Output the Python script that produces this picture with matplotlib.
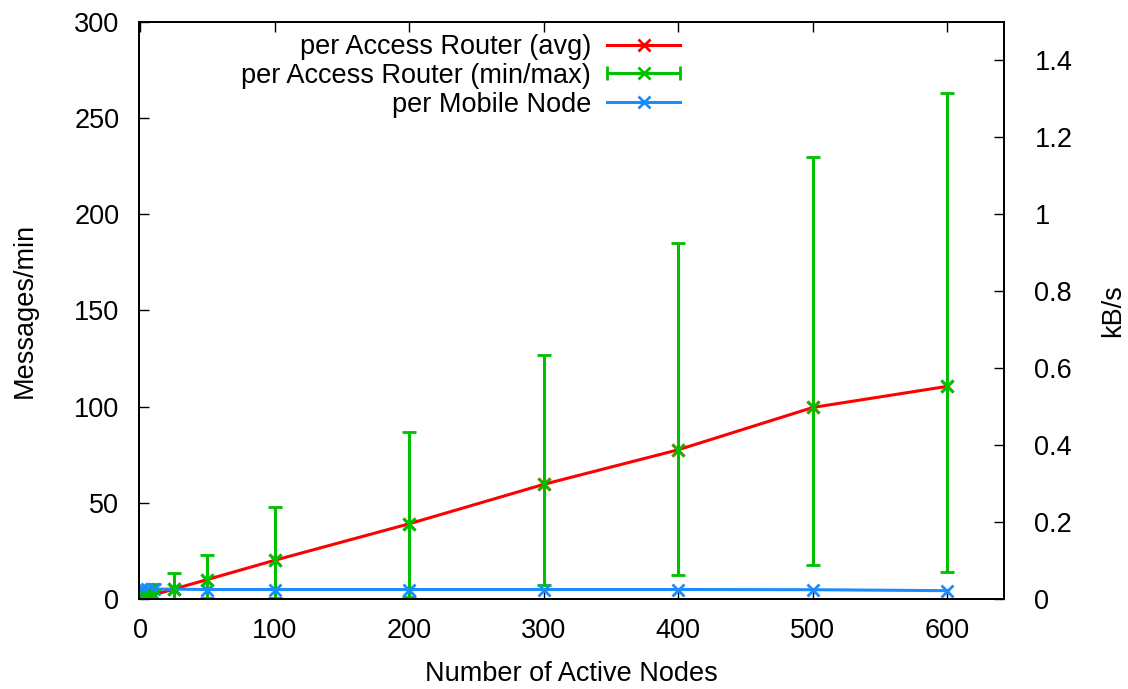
import numpy as np
import matplotlib
matplotlib.use("Agg")
import matplotlib.pyplot as plt
from matplotlib.ticker import FormatStrFormatter
from matplotlib.legend_handler import HandlerErrorbar

plt.rcParams['font.family'] = ['Liberation Sans', 'DejaVu Sans']
plt.rcParams['font.size'] = 19.5

# data
nodes = [1, 2, 5, 10, 25, 50, 100, 200, 300, 400, 500, 600]
ar_avg = [0.2, 0.4, 1.0, 2.0, 5.0, 10.0, 20.0, 39.0, 59.5, 77.5, 99.5, 110.5]
ar_min = [0.0, 0.0, 0.0, 0.0, 0.0, 0.5, 0.5, 1.0, 7.0, 12.5, 17.5, 14.0]
ar_max = [1.0, 2.0, 4.0, 7.5, 13.5, 23.0, 47.5, 87.0, 127.0, 185.0, 230.0, 263.0]
mn_msgs = [5.0, 5.0, 5.0, 5.0, 5.0, 4.8, 4.8, 4.8, 4.8, 4.8, 4.7, 4.2]

red = '#ff0000'
green = '#00c000'
blue = '#1a8cff'

fig = plt.figure(figsize=(11.28, 6.89), dpi=100)
ax = fig.add_axes([0.123, 0.131, 0.767, 0.837])

l1, = ax.plot(nodes, ar_avg, color=red, lw=2.2, marker='x', ms=9, mew=2)
avg = np.array(ar_avg)
err = [avg - np.array(ar_min), np.array(ar_max) - avg]
ax.errorbar(nodes, ar_avg, yerr=err, fmt='x', color=green, ms=9, mew=2,
            elinewidth=2.2, capsize=5, capthick=2)
l3, = ax.plot(nodes, mn_msgs, color=blue, lw=2.2, marker='x', ms=9, mew=2)

# proxy for the legend: horizontal bar with caps
proxy = ax.errorbar([np.nan], [np.nan], xerr=[1], fmt='x', color=green, ms=9,
                    mew=2, elinewidth=2.2, capsize=5, capthick=2)

ax.set_xlim(-1, 642)
ax.set_ylim(0, 300)
ax.set_xticks(range(0, 601, 100))
ax.set_yticks(range(0, 301, 50))
ax.tick_params(direction='in', length=7, width=1, top=True, right=True)
ax.tick_params(axis='x', pad=14)
ax.tick_params(axis='y', pad=14)
ax.set_xlabel('Number of Active Nodes', labelpad=12)
ax.set_ylabel('Messages/min', labelpad=26)

ax2 = ax.twinx()
ax2.set_ylim(0, 1.5)
ax2.set_yticks(np.arange(0, 1.41, 0.2))
ax2.yaxis.set_major_formatter(FormatStrFormatter('%g'))
ax2.tick_params(direction='in', length=7, width=1, pad=22)
ax2.set_ylabel('kB/s', labelpad=20)

for a in (ax, ax2):
    for s in a.spines.values():
        s.set_linewidth(1.3)

hl = 2.7
ax.legend([l1, proxy, l3],
          ['per Access Router (avg)', 'per Access Router (min/max)',
           'per Mobile Node'],
          handler_map={proxy: HandlerErrorbar(xerr_size=hl / 2)},
          loc='upper right', bbox_to_anchor=(0.64, 1.0), frameon=False,
          markerfirst=False, handlelength=hl, labelspacing=0.1,
          handletextpad=0.6, borderaxespad=0.45, borderpad=0.0)

fig.savefig('out.png', dpi=100)
